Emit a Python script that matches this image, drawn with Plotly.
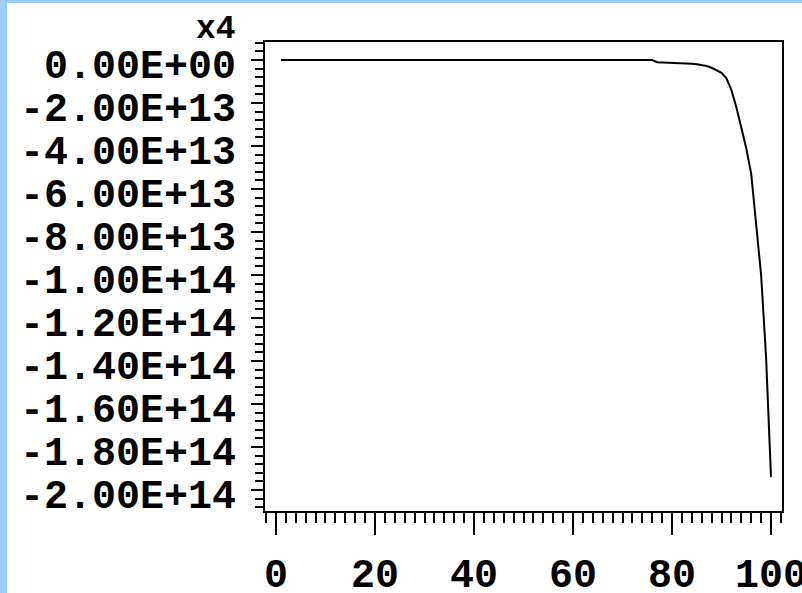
import plotly.graph_objects as go

# Curve samples: position along the run and the accumulated value
x_vals = [1, 10, 20, 30, 40, 50, 60, 70, 76, 77, 80, 83, 84, 85, 86, 87, 88, 89,
          90, 91, 92, 93, 94, 95, 96, 97, 98, 99, 100]
y_vals = [0, 0, 0, 0, 0, 0, 0, 0, 0, -1.0e12, -1.2e12, -1.5e12, -1.7e12, -2.0e12,
          -2.3e12, -2.8e12, -3.6e12, -4.8e12, -6.0e12, -8.5e12, -1.4e13, -2.2e13,
          -3.2e13, -4.1e13, -5.3e13, -7.5e13, -1.0e14, -1.38e14, -1.94e14]

# Axis ticks and their labels
x_ticks = [0, 20, 40, 60, 80, 100]
x_tick_text = ["0", "20", "40", "60", "80", "100"]
y_ticks = [0, -2e13, -4e13, -6e13, -8e13, -1e14, -1.2e14, -1.4e14, -1.6e14,
           -1.8e14, -2e14]
y_tick_text = ["0.00E+00", "-2.00E+13", "-4.00E+13", "-6.00E+13", "-8.00E+13",
               "-1.00E+14", "-1.20E+14", "-1.40E+14", "-1.60E+14", "-1.80E+14",
               "-2.00E+14"]
y_title = "x4"

W, H = 802, 593
L, R, T, B = 265, 20, 42, 82
PW, PH = W - L - R, H - T - B

font = dict(family="Liberation Mono", size=40, color="black", weight="bold")

fig = go.Figure(go.Scatter(x=x_vals, y=y_vals, mode="lines",
                           line=dict(color="black", width=2),
                           showlegend=False))

axis_common = dict(showline=True, linecolor="black", linewidth=2, mirror=True,
                   showgrid=False, zeroline=False, ticks="outside",
                   tickcolor="black", tickwidth=2, tickfont=font,
                   tickmode="array", automargin=False,
                   ticklabeloverflow="allow")

fig.update_xaxes(range=[-2.22, 102.22], tickvals=x_ticks, ticktext=x_tick_text,
                 ticklen=22, ticklabelstandoff=4,
                 minor=dict(ticks="outside", ticklen=10, tickwidth=2,
                            tickcolor="black", dtick=2, tick0=0),
                 **axis_common)
fig.update_yaxes(range=[-2.0977e14, 8.37e12], tickvals=y_ticks,
                 ticktext=y_tick_text, ticklen=12, ticklabelstandoff=7,
                 ticklabelshift=4,
                 minor=dict(ticks="outside", ticklen=8, tickwidth=2,
                            tickcolor="black", dtick=4e12, tick0=0),
                 **axis_common)

def px_x(p):
    return (p - L) / PW

def px_y(p):
    return (H - B - p) / PH

blue = "#99CCFF"
fig.add_shape(type="rect", xref="paper", yref="paper", x0=px_x(0), x1=px_x(7),
              y0=px_y(H), y1=px_y(0), fillcolor=blue, line_width=0)
fig.add_shape(type="rect", xref="paper", yref="paper", x0=px_x(0), x1=px_x(W),
              y0=px_y(3), y1=px_y(0), fillcolor=blue, line_width=0)

fig.add_annotation(text=y_title, xref="paper", yref="paper", x=px_x(238),
                   y=px_y(29), xanchor="right", yanchor="middle",
                   showarrow=False,
                   font=dict(family="Liberation Mono", size=33, color="black",
                             weight="bold"))

fig.update_layout(width=W, height=H, margin=dict(l=L, r=R, t=T, b=B),
                  paper_bgcolor="white", plot_bgcolor="white")

fig.write_html("out.html")
